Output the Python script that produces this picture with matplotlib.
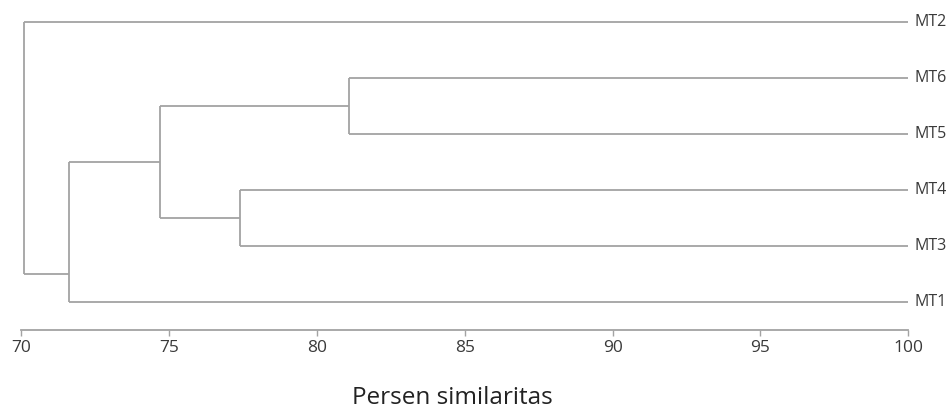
import matplotlib
matplotlib.use("Agg")
import matplotlib.pyplot as plt

# leaves from bottom to top
leaves = ['MT1', 'MT3', 'MT4', 'MT5', 'MT6', 'MT2']

# merges: (left, right, similarity, drawn position of new node)
merge_a = ['MT5', 'MT3', 'C1', 'MT1', 'C4']
merge_b = ['MT6', 'MT4', 'C2', 'C3', 'MT2']
merge_sim = [81.1, 77.4, 74.7, 71.6, 70.1]
merge_pos = [3.5, 1.5, 2.5, 0.5, 2.5]

ticks = [70, 75, 80, 85, 90, 95, 100]

line_col = '#a3a3a3'
text_col = '#3a3a3a'

plt.rcParams['font.family'] = ['Open Sans', 'DejaVu Sans']

fig = plt.figure(figsize=(9.52, 4.09), dpi=100)
ax = fig.add_axes([0.0224, 0.1932, 0.9316, 0.794])

pos = {name: i for i, name in enumerate(leaves)}
sim = {name: 100.0 for name in leaves}

for i in range(len(merge_sim)):
    a, b, s = merge_a[i], merge_b[i], merge_sim[i]
    # horizontal arms from the children to the merge level
    ax.plot([s, sim[a]], [pos[a], pos[a]], color=line_col, lw=1.3, solid_capstyle='butt')
    ax.plot([s, sim[b]], [pos[b], pos[b]], color=line_col, lw=1.3, solid_capstyle='butt')
    ax.plot([s, s], [pos[a], pos[b]], color=line_col, lw=1.3, solid_capstyle='butt')
    name = 'C%d' % (i + 1)
    pos[name] = merge_pos[i]
    sim[name] = s

for name in leaves:
    ax.text(100.22, pos[name], name, color=text_col, fontsize=11.5,
            va='center', ha='left')

ax.set_xlim(70, 100)
ax.set_ylim(-0.5, 5.3)
ax.set_xticks(ticks)
ax.set_xticklabels([str(t) for t in ticks], color=text_col, fontsize=12.5)
ax.set_yticks([])
for side in ['top', 'right', 'left']:
    ax.spines[side].set_visible(False)
ax.spines['bottom'].set_color(line_col)
ax.spines['bottom'].set_linewidth(1.3)
ax.tick_params(axis='x', colors=line_col, labelcolor=text_col, length=4, width=1, pad=3)

fig.text(452 / 952, 4.5 / 409, 'Persen similaritas', fontsize=17.5, color='#222222',
         ha='center', va='baseline')

fig.savefig('out.png', dpi=100)
